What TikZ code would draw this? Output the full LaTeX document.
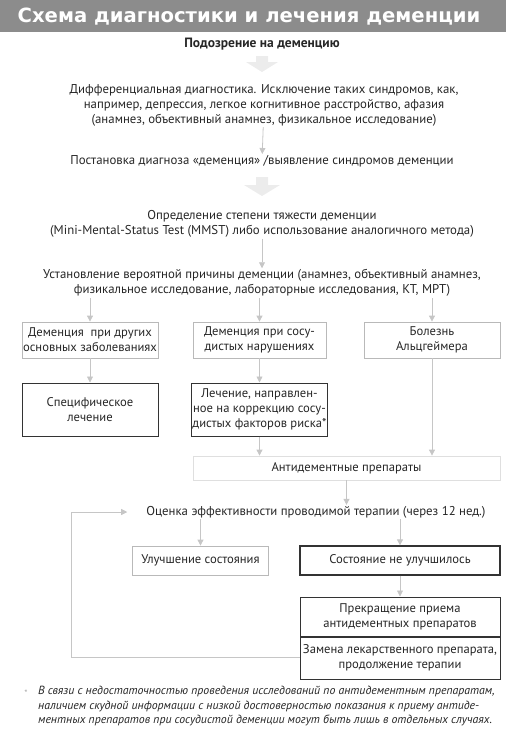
\documentclass[tikz,border=0pt]{standalone}
\usepackage{fontspec}
\setmainfont{PT Sans}
\newfontfamily\titlefont{DejaVu Sans}
\usetikzlibrary{arrows.meta, positioning}

\tikzset{
  txt/.style={align=center, font=\fontsize{12.8}{15}\selectfont, text=black!85, inner sep=1pt},
  lightbox/.style={draw=gray!55, line width=0.8pt, align=center, inner sep=1pt,
    minimum width=136pt, minimum height=36pt, font=\fontsize{12.6}{15}\selectfont, text=black!85},
  darkbox/.style={lightbox, draw=black!80, line width=1pt},
  flow/.style={-{Triangle[width=6pt,length=6pt]}, draw=gray!45, line width=0.8pt},
  bigarrow/.style={fill=gray!15, draw=none}
}

\begin{document}
\begin{tikzpicture}[x=1pt, y=-1pt]
  \useasboundingbox (0,0) rectangle (506,740);

  %% ---- title band ----
  \fill[gray!90] (0,0) rectangle (506,32);
  \node[text=white, font=\titlefont\bfseries\fontsize{19.6}{22}\selectfont] (title) at (249,17)
    {Схема диагностики и лечения деменции};

  %% ---- diagnostic steps ----
  \node[txt, font=\bfseries\fontsize{13.5}{15}\selectfont] (suspect) at (262,44) {Подозрение на деменцию};
  \node[txt] (diff) at (264,105)
    {Дифференциальная диагностика. Исключение таких синдромов, как,\\
     например, депрессия, легкое когнитивное расстройство, афазия\\
     (анамнез, объективный анамнез, физикальное исследование)};
  \node[txt] (diag) at (262,161)
    {Постановка диагноза «деменция» /выявление синдромов деменции};
  \node[txt] (degree) at (262,224)
    {Определение степени тяжести деменции\\
     (Mini-Mental-Status Test (MMST) либо использование аналогичного метода)};
  \node[txt] (cause) at (262,283)
    {Установление вероятной причины деменции (анамнез, объективный анамнез,\\
     физикальное исследование, лабораторные исследования, КТ, МРТ)};

  %% ---- big faded arrows ----
  \fill[bigarrow] (256,56) -- (268,56) -- (268,62) -- (278,62) -- (262,72) -- (246,62) -- (256,62) -- cycle;
  \fill[bigarrow] (256,177) -- (268,177) -- (268,185) -- (280,185) -- (262,196) -- (244,185) -- (256,185) -- cycle;

  \draw[flow] (diff) -- (diag);
  \draw[flow] (degree) -- (cause);

  %% ---- cause boxes ----
  \node[lightbox] (other) at (90,340) {Деменция \ при других\\основных заболеваниях};
  \node[lightbox, minimum width=133pt] (vasc) at (259.5,340) {Деменция при сосу-\\дистых нарушениях};
  \node[lightbox] (alz) at (432,340) {Болезнь\\Альцгеймера};

  \node[darkbox, minimum height=53pt] (spec) at (90,409.5) {Специфическое\\лечение};
  \node[darkbox, minimum width=133pt, minimum height=53pt] (vtreat) at (259.5,409.5)
    {Лечение, направлен-\\ное на коррекцию сосу-\\дистых факторов риска*};

  \node[lightbox, draw=gray!25, minimum width=307pt, minimum height=24pt] (anti) at (346.5,468)
    {Антидементные препараты};

  \draw[flow] (cause.south -| other) -- (other);
  \draw[flow] (cause.south -| vasc) -- (vasc);
  \draw[flow] (cause.south -| alz) -- (alz);
  \draw[flow] (other) -- (spec);
  \draw[flow] (vasc) -- (vtreat);
  \draw[flow] (vtreat) -- (vtreat |- anti.north);
  \draw[flow] (alz) -- (alz |- anti.north);

  %% ---- evaluation ----
  \node[txt] (eval) at (316,512) {Оценка эффективности проводимой терапии (через 12 нед.)};
  \draw[flow] (anti) -- (anti |- eval.north);

  \node[lightbox, minimum height=29pt] (better) at (200.5,560.5) {Улучшение состояния};
  \node[darkbox, line width=1.3pt, minimum width=200pt, minimum height=29pt] (worse) at (400,560.5)
    {Состояние не улучшилось};
  \draw[flow] (eval.south -| better) -- (better);
  \draw[flow] (eval.south -| worse) -- (worse);

  \node[darkbox, minimum width=200pt, minimum height=39pt] (stop) at (400,616.5)
    {Прекращение приема\\антидементных препаратов};
  \node[darkbox, minimum width=200pt, minimum height=42pt, below=0pt of stop] (switch)
    {Замена лекарственного препарата,\\продолжение терапии};
  \draw[flow] (worse) -- (stop);

  %% ---- loop back ----
  \coordinate (loopL) at (71,657);
  \draw[flow] (switch.west |- loopL) -- (loopL) |- ([xshift=-18pt]eval.west);

  %% ---- footnote ----
  \node[text=gray!70, font=\small] (star) at (26,693) {*};
  \node[anchor=north west, align=left, inner sep=0pt, text=black!85,
        font=\itshape\fontsize{11.8}{14.5}\selectfont] (note) at (38,686)
    {В связи с недостаточностью проведения исследований по антидементным препаратам,\\
     наличием скудной информации с низкой достоверностью показания к приему антиде-\\
     ментных препаратов при сосудистой деменции могут быть лишь в отдельных случаях.};
\end{tikzpicture}
\end{document}
